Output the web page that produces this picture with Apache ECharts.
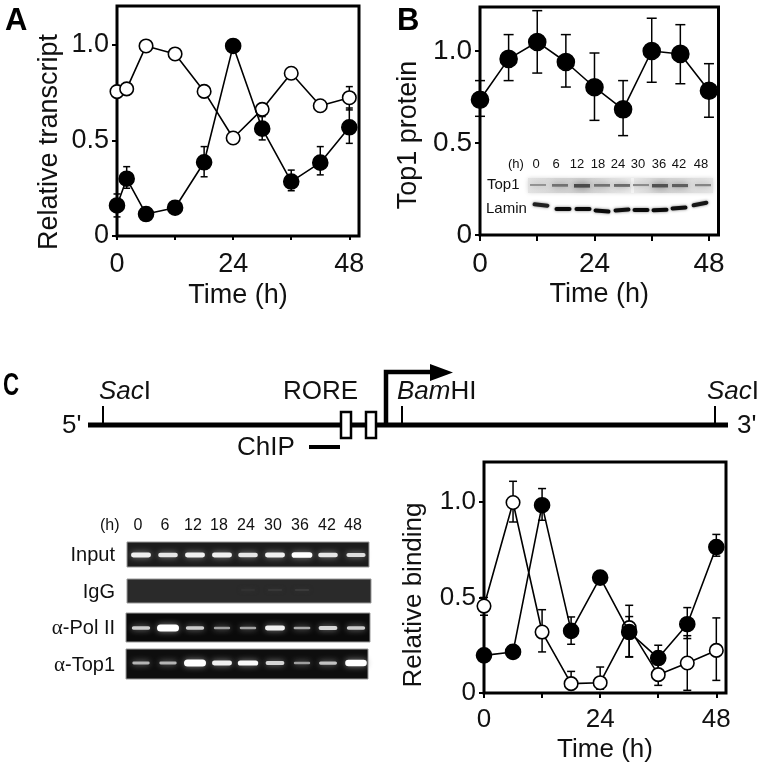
<!DOCTYPE html>
<html><head><meta charset="utf-8">
<style>html,body{margin:0;padding:0;background:#fff}#c{width:760px;height:768px}</style>
<script src="https://cdn.jsdelivr.net/npm/echarts@6/dist/echarts.min.js"></script>
</head><body><div id="c"></div>
<script>
// ---------- data ----------
const hoursA = [0, 2, 6, 12, 18, 24, 30, 36, 42, 48];
const hours = [0, 6, 12, 18, 24, 30, 36, 42, 48];
const xTicks = [0, 12, 24, 36, 48];
const xTickLabels = [0, 24, 48];
const yTicks = [0, 0.5, 1];

const aOpen = [0.756, 0.77, 0.995, 0.953, 0.757, 0.513, 0.663, 0.852, 0.682, 0.724];
const aFilled = [0.16, 0.30, 0.115, 0.148, 0.386, 0.995, 0.562, 0.285, 0.384, 0.569];
const aOpenLo = [null, null, null, null, null, null, null, null, null, 0.66];
const aOpenHi = [null, null, null, null, null, null, null, null, null, 0.782];
const aFilledLo = [0.10, 0.25, null, null, 0.31, null, 0.503, 0.237, 0.32, 0.485];
const aFilledHi = [0.22, 0.363, null, null, 0.468, null, 0.625, 0.345, 0.468, 0.67];

const bFilled = [0.735, 0.957, 1.049, 0.94, 0.803, 0.683, 1.0, 0.984, 0.784];
const bLo = [0.645, 0.839, 0.88, 0.804, 0.623, 0.54, 0.83, 0.822, 0.64];
const bHi = [0.839, 1.089, 1.219, 1.089, 0.989, 0.839, 1.178, 1.143, 0.931];

const cFilled = [0.197, 0.215, 0.983, 0.325, 0.604, 0.319, 0.183, 0.36, 0.764];
const cOpen = [0.455, 0.997, 0.319, 0.049, 0.054, 0.342, 0.096, 0.157, 0.223];
const cFilledLo = [null, null, 0.904, 0.255, null, 0.19, 0.12, 0.285, 0.716];
const cFilledHi = [null, null, 1.07, 0.398, null, 0.40, 0.25, 0.447, 0.83];
const cOpenLo = [0.407, 0.895, 0.215, 0.02, 0.02, 0.188, 0.04, 0.014, 0.066];
const cOpenHi = [0.50, 1.108, 0.436, 0.113, 0.136, 0.459, 0.15, 0.30, 0.393];

// gel / blot band strengths, lane by lane
const laneLabels = ['0', '6', '12', '18', '24', '30', '36', '42', '48'];
const gelInput = [0.75, 0.7, 0.75, 0.75, 0.7, 0.75, 0.85, 0.7, 0.65];
const gelIgG = [0, 0, 0, 0, 0.03, 0.05, 0.06, 0, 0];
const gelPol = [0.55, 1, 0.55, 0.3, 0.32, 0.75, 0.35, 0.6, 0.55];
const gelTop1 = [0.42, 0.42, 1, 0.75, 0.8, 0.6, 0.3, 0.5, 0.95];
const wbTop1 = [0.15, 0.4, 0.7, 0.4, 0.45, 0.2, 0.65, 0.55, 0.25];
const wbLamin = [0.7, 1, 1, 1, 0.95, 1, 1, 0.95, 0.85];

// ---------- layout ----------
const gelX = [141, 168, 195, 222, 248, 275, 302, 328, 356];
const gelLabelX = [138, 165, 193, 219, 246, 273, 300, 327, 353];
const wbX = [536, 556, 577, 598, 618, 638, 659, 679, 701];
const wbBandX = [538, 560, 582, 602, 622, 641, 660, 680, 703];
const wbLaminX = [541, 563, 583, 602, 622, 641, 660, 679, 700];
const wbLaminY = [205, 209, 209, 211, 210, 210, 210, 208, 204];
const wbLaminTilt = [-0.1, 0, 0, -0.08, 0.07, 0, 0.03, 0.07, 0.2];

const TXT = '"Liberation Sans", Arial, sans-serif';
const panels = [
  {left: 117, top: 6, width: 242, height: 230, ymax: 1.204, yName: 'Relative transcript', size: 27, nameGap: 54, namePad: 42, cap: 3.5, xMargin: 15, xGap: 46, tick: 4},
  {left: 480, top: 7, width: 238.5, height: 228, ymax: 1.239, yName: 'Top1 protein', size: 28, nameGap: 58, namePad: 28, cap: 5, xMargin: 15, xGap: 46, tick: 6},
  {left: 484, top: 462, width: 242, height: 231, ymax: 1.209, yName: 'Relative binding', size: 26, nameGap: 57, namePad: 35, cap: 4, xMargin: 14, xGap: 44, tick: 5}
];

const pairs = (xs, ys) => xs.map((x, i) => [x, ys[i]]);
const triples = (xs, lo, hi) => xs.map((x, i) => [x, lo[i], hi[i]]).filter(d => d[1] !== null);

function errSeries(idx, xs, lo, hi, cap) {
  return {
    type: 'custom', xAxisIndex: idx, yAxisIndex: idx, clip: false, z: 2, silent: true,
    data: triples(xs, lo, hi), encode: {x: 0, y: [1, 2]},
    renderItem(params, api) {
      const a = api.coord([api.value(0), api.value(1)]);
      const b = api.coord([api.value(0), api.value(2)]);
      const st = {stroke: '#000', lineWidth: 1.5, fill: 'none'};
      const ln = (x1, y1, x2, y2) => ({type: 'line', shape: {x1, y1, x2, y2}, style: st});
      return {type: 'group', children: [
        ln(a[0], a[1], b[0], b[1]),
        ln(a[0] - cap, a[1], a[0] + cap, a[1]),
        ln(b[0] - cap, b[1], b[0] + cap, b[1])
      ]};
    }
  };
}
function lineSeries(idx, xs, ys, filled, size, z) {
  return {
    type: 'line', xAxisIndex: idx, yAxisIndex: idx, data: pairs(xs, ys), clip: false, z,
    symbol: 'circle', symbolSize: size, showSymbol: true, animation: false, silent: true,
    lineStyle: {color: '#000', width: 1.6},
    itemStyle: {color: filled ? '#000' : '#fff', borderColor: '#000', borderWidth: 1.6, opacity: 1}
  };
}

const grids = panels.map(p => ({left: p.left, top: p.top, width: p.width, height: p.height, show: true, borderColor: '#000', borderWidth: 3, backgroundColor: 'transparent'}));
const xAxes = panels.map((p, i) => ({
  type: 'value', gridIndex: i, min: 0, max: 50, name: 'Time (h)', nameLocation: 'middle', nameGap: p.xGap,
  nameTextStyle: {fontFamily: TXT, fontSize: i === 2 ? 26 : 27, color: '#111'},
  axisLine: {show: false}, splitLine: {show: false},
  axisTick: {show: true, length: p.tick, inside: false, lineStyle: {color: '#000', width: 2}, customValues: xTicks},
  axisLabel: {fontFamily: TXT, fontSize: p.size, color: '#111', margin: p.xMargin, customValues: xTickLabels, showMinLabel: true, showMaxLabel: true, hideOverlap: false, formatter: v => String(v)}
}));
const yAxes = panels.map((p, i) => ({
  type: 'value', gridIndex: i, min: 0, max: p.ymax, name: p.yName, nameLocation: 'middle', nameGap: p.nameGap,
  nameTextStyle: {fontFamily: TXT, fontSize: i === 2 ? 26 : 27, color: '#111', padding: [0, p.namePad, 0, 0]},
  axisLine: {show: false}, splitLine: {show: false},
  axisTick: {show: true, length: 5, lineStyle: {color: '#000', width: 2}, customValues: yTicks},
  axisLabel: {fontFamily: TXT, fontSize: p.size, color: '#111', margin: 8, customValues: yTicks, hideOverlap: false, formatter: v => v === 0 ? '0' : v.toFixed(1)}
}));

const series = [
  errSeries(0, hoursA, aOpenLo, aOpenHi, panels[0].cap),
  errSeries(0, hoursA, aFilledLo, aFilledHi, panels[0].cap),
  lineSeries(0, hoursA, aOpen, false, 13.5, 3),
  lineSeries(0, hoursA, aFilled, true, 15, 4),
  errSeries(1, hours, bLo, bHi, panels[1].cap),
  lineSeries(1, hours, bFilled, true, 17, 4),
  errSeries(2, hours, cOpenLo, cOpenHi, panels[2].cap),
  errSeries(2, hours, cFilledLo, cFilledHi, panels[2].cap),
  lineSeries(2, hours, cOpen, false, 13.5, 3),
  lineSeries(2, hours, cFilled, true, 15, 4)
];

// ---------- graphic pieces ----------
const g = [];
const text = (s, x, y, size, extra = {}) => g.push({type: 'text', x, y, z: 20, style: Object.assign({text: s, font: `${size}px ${TXT}`, fill: '#111', align: 'left', verticalAlign: 'middle'}, extra)});
const rect = (x, y, w, h, style, extra = {}) => g.push(Object.assign({type: 'rect', z: 15, shape: {x, y, width: w, height: h}, style}, extra));
const hline = (x1, y1, x2, y2, w) => g.push({type: 'line', z: 15, shape: {x1, y1, x2, y2}, style: {stroke: '#000', lineWidth: w}});

// panel letters
text('A', 5, 21, 31, {font: `bold 31px ${TXT}`, fill: '#000'});
text('B', 397, 21, 31, {font: `bold 31px ${TXT}`, fill: '#000'});
g.push({type: 'text', x: 3, y: 386, z: 20, scaleX: 0.72, style: {text: 'C', font: `bold 31px ${TXT}`, fill: '#000', align: 'left', verticalAlign: 'middle'}});

// promoter map
hline(88, 425, 728, 425, 5);
hline(103, 406, 103, 425, 2);
hline(402, 406, 402, 425, 2);
hline(715, 406, 715, 425, 2);
const enz = {i: {font: `italic 26px ${TXT}`, fill: '#111'}, n: {font: `26px ${TXT}`, fill: '#111'}};
text('{i|Sac}{n|I}', 99, 392, 26, {rich: enz});
text('{i|Bam}{n|HI}', 397, 392, 26, {rich: enz});
text('{i|Sac}{n|I}', 707, 392, 26, {rich: enz});
text('RORE', 283, 392, 26);
text("5'", 62, 426, 26);
text("3'", 737, 426, 26);
text('ChIP', 237, 448, 26);
hline(309, 447, 340, 447, 4);
rect(341, 412, 10, 26, {fill: '#fff', stroke: '#000', lineWidth: 2.5});
rect(366, 412, 10, 26, {fill: '#fff', stroke: '#000', lineWidth: 2.5});
g.push({type: 'polyline', z: 15, shape: {points: [[386, 425], [386, 372], [432, 372]]}, style: {stroke: '#000', lineWidth: 4.5, fill: 'none'}});
g.push({type: 'polygon', z: 15, shape: {points: [[430, 364], [453, 372.5], [430, 381]]}, style: {fill: '#000'}});

// ethidium gels
laneLabels.forEach((s, i) => text(s, gelLabelX[i], 526, 16, {align: 'center'}));
text('(h)', 100, 526, 16);
const alpha = {a: {font: '21px "Liberation Serif", serif', fill: '#111'}, n: {font: `20px ${TXT}`, fill: '#111'}};
function gel(label, x, y, w, h, bg, vals, bandY, faint) {
  rect(x, y, w, h, {fill: bg, stroke: '#999', lineWidth: 1});
  text(label, 115, y + h / 2 + 1, 20, {align: 'right', rich: alpha});
  vals.forEach((v, i) => {
    if (!v) return;
    const bw = 14 + 8 * v, bh = faint ? 2 : 2 + 5 * v * v;
    const c = Math.round(faint ? 40 + 300 * v : Math.min(255, 105 + 180 * v));
    const bx = gelX[i] - bw / 2, by = bandY - bh / 2;
    rect(bx, by, bw, bh, {fill: `rgb(${c},${c},${c})`, shadowBlur: faint ? 4 : 6, shadowColor: faint ? '#333' : '#888'}, {shape: {x: bx, y: by, width: bw, height: bh, r: bh / 2}});
  });
}
gel('Input', 127, 542, 242, 25, '#1c1c1c', gelInput, 555);
gel('IgG', 127, 579, 244, 24, '#2a2a2a', gelIgG, 590, true);
gel('{a|α}{n|-Pol II}', 126, 613, 244, 29, '#0a0a0a', gelPol, 628);
gel('{a|α}{n|-Top1}', 126, 649, 242, 30, '#0e0e0e', gelTop1, 663);

// western blot inset
laneLabels.forEach((s, i) => text(s, wbX[i], 164, 13, {align: 'center'}));
text('(h)', 508, 164, 13);
text('Top1', 487, 185, 15);
text('Lamin', 486, 209, 15);
rect(528, 178, 185, 15, {fill: {type: 'linear', x: 0, y: 0, x2: 1, y2: 0, colorStops: [{offset: 0, color: '#e4e4e4'}, {offset: 0.15, color: '#d6d6d6'}, {offset: 0.3, color: '#cfcfcf'}, {offset: 0.55, color: '#ececec'}, {offset: 0.72, color: '#d2d2d2'}, {offset: 1, color: '#e6e6e6'}]}, shadowBlur: 4, shadowColor: '#ddd'});
rect(631, 178, 3, 15, {fill: '#f6f6f6'});
wbTop1.forEach((v, i) => {
  const c = Math.round(165 - 130 * v);
  rect(wbBandX[i] - 8, 184, 16, 1.5 + 3 * v, {fill: `rgb(${c},${c},${c})`, shadowBlur: 6, shadowColor: `rgb(${c + 30},${c + 30},${c + 30})`});
});
wbLamin.forEach((v, i) => {
  const c = Math.round(80 - 70 * v);
  g.push({type: 'rect', z: 15, x: wbLaminX[i], y: wbLaminY[i], rotation: wbLaminTilt[i], shape: {x: -8.5, y: -2, width: 17, height: 4, r: 2}, style: {fill: `rgb(${c},${c},${c})`, shadowBlur: 3, shadowColor: '#777'}});
});

const chart = echarts.init(document.getElementById('c'), null, {renderer: 'canvas'});
chart.setOption({
  animation: false, backgroundColor: '#fff',
  grid: grids, xAxis: xAxes, yAxis: yAxes, series, graphic: {elements: g}
});
</script></body></html>
